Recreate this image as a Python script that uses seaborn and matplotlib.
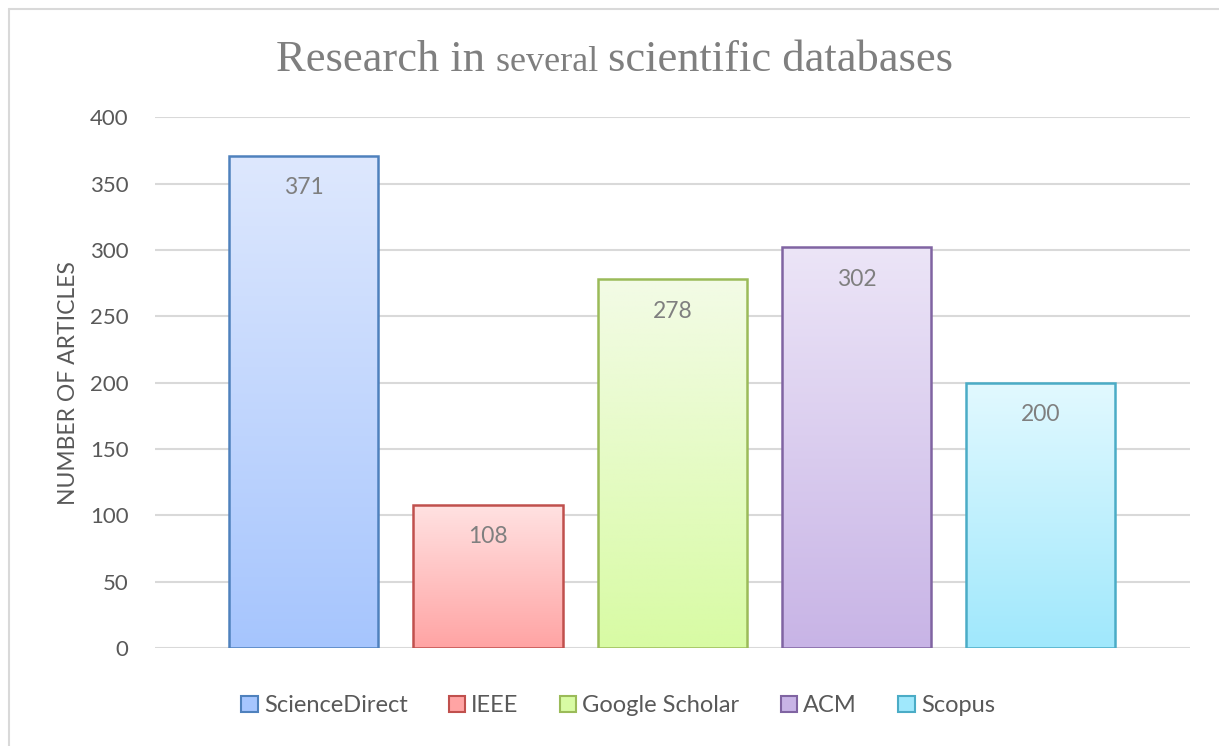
import numpy as np
import matplotlib
matplotlib.use("Agg")
import matplotlib.pyplot as plt
import seaborn as sns
from matplotlib.colors import LinearSegmentedColormap
from matplotlib.patches import Patch
from matplotlib.lines import Line2D

# Dados do gráfico
databases = ["ScienceDirect", "IEEE", "Google Scholar", "ACM", "Scopus"]
articles = [371, 108, 278, 302, 200]
y_ticks = [0, 50, 100, 150, 200, 250, 300, 350, 400]

# Cores: borda, topo do gradiente, base do gradiente
edge_colors = ["#4F81BD", "#C0504D", "#9BBB59", "#8064A2", "#4BACC6"]
top_colors = ["#DEE8FD", "#FFE2E2", "#F3FBE6", "#ECE5F7", "#E2F9FF"]
bottom_colors = ["#A6C5FE", "#FFA4A4", "#D8FBA4", "#C8B4E6", "#A0E8FC"]

TEXT_GRAY = "#595959"
LABEL_GRAY = "#7F7F7F"

sns.set_style("white")
plt.rcParams["font.family"] = ["Lato", "DejaVu Sans"]

fig = plt.figure(figsize=(12.19, 7.46), dpi=100)
ax = fig.add_axes([0.127, 0.131, 0.849, 0.712])

sns.barplot(x=databases, y=articles, hue=databases, palette=edge_colors,
            legend=False, width=0.81, ax=ax, zorder=3)

# Preenchimento em gradiente para cada barra
for patch, ec, c_top, c_bot in zip(ax.patches, edge_colors, top_colors, bottom_colors):
    x0, y0 = patch.get_x(), patch.get_y()
    w, h = patch.get_width(), patch.get_height()
    patch.set_facecolor("none")
    patch.set_edgecolor(ec)
    patch.set_linewidth(1.8)
    patch.set_zorder(4)
    cmap = LinearSegmentedColormap.from_list("g", [c_bot, c_top])
    grad = np.linspace(0, 1, 256).reshape(-1, 1)
    im = ax.imshow(grad, cmap=cmap, origin="lower", aspect="auto",
                   extent=(x0, x0 + w, y0, y0 + h), zorder=3)
    im.set_clip_path(patch)

# Rótulos de valor dentro das barras
for i, v in enumerate(articles):
    ax.annotate(str(v), (i, v), xytext=(0, -23), textcoords="offset points",
                ha="center", va="center", fontsize=16.5, color=LABEL_GRAY, zorder=5)

ax.set_xlim(-0.808, 4.808)
ax.set_ylim(0, 400)
ax.set_yticks(y_ticks)
ax.set_xticks([])
ax.set_xlabel("")
ax.yaxis.grid(True, color="#D9D9D9", linewidth=1.5, zorder=0)
ax.set_axisbelow(True)
for s in ax.spines.values():
    s.set_visible(False)
ax.tick_params(axis="y", length=0, labelsize=16, labelcolor=TEXT_GRAY, pad=19)
ax.set_ylabel("NUMBER OF ARTICLES", fontsize=16.5, color=TEXT_GRAY, labelpad=8)

# Título com tamanhos mistos
renderer = fig.canvas.get_renderer()
parts = [("Research in ", 32), ("several ", 26), ("scientific databases", 32)]
title_font = ["Liberation Serif", "DejaVu Serif"]
texts = []
for s, size in parts:
    t = fig.text(0, 0.905, s, fontsize=size, color=LABEL_GRAY, family=title_font,
                 va="baseline", ha="left")
    texts.append(t)
widths = [t.get_window_extent(renderer).width / fig.bbox.width for t in texts]
x = 0.504 - sum(widths) / 2
for t, w in zip(texts, widths):
    t.set_x(x)
    x += w

# Legenda na parte inferior
handles = [Patch(facecolor=c_bot, edgecolor=ec, linewidth=1.5, label=name)
           for name, ec, c_bot in zip(databases, edge_colors, bottom_colors)]
fig.legend(handles=handles, loc="center", bbox_to_anchor=(0.507, 0.054), ncol=5,
           frameon=False, fontsize=17, handlelength=0.7, handleheight=0.7,
           handletextpad=0.25, columnspacing=1.75, labelcolor=TEXT_GRAY)

# Moldura do gráfico (esquerda e topo)
fig.add_artist(Line2D([0.007, 0.007], [0, 0.988], transform=fig.transFigure,
                      color="#D9D9D9", linewidth=1.5))
fig.add_artist(Line2D([0.007, 1], [0.988, 0.988], transform=fig.transFigure,
                      color="#D9D9D9", linewidth=1.5))

fig.savefig("out.png", dpi=100)
